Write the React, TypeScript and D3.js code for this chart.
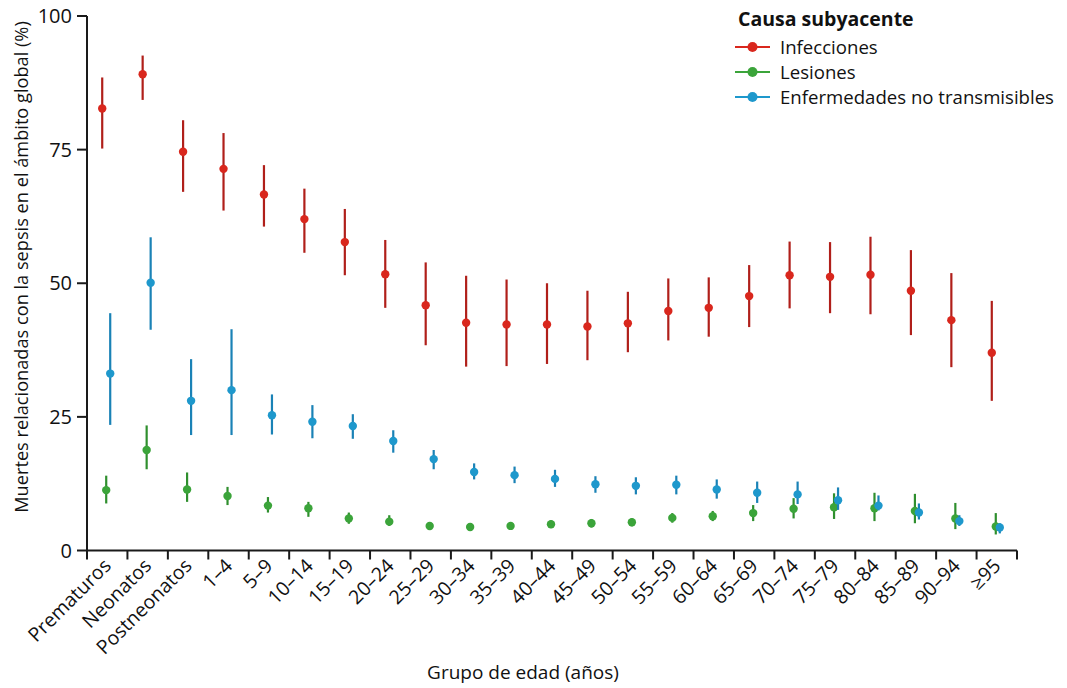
import React from "react";
import * as d3 from "d3";

// Age groups on the x axis
const ageGroups = [
  "Prematuros", "Neonatos", "Postneonatos", "1–4", "5–9", "10–14", "15–19",
  "20–24", "25–29", "30–34", "35–39", "40–44", "45–49", "50–54", "55–59",
  "60–64", "65–69", "70–74", "75–79", "80–84", "85–89", "90–94", "≥95",
];

// Share of sepsis-related deaths (%) by underlying cause: estimate, lower, upper
const infeccionesVal = [82.7, 89.1, 74.6, 71.4, 66.6, 62.0, 57.7, 51.7, 45.9, 42.6, 42.3, 42.3, 41.9, 42.5, 44.8, 45.4, 47.6, 51.5, 51.2, 51.6, 48.6, 43.1, 37.0];
const infeccionesLo = [75.2, 84.3, 67.1, 63.6, 60.6, 55.7, 51.5, 45.4, 38.4, 34.4, 34.5, 34.9, 35.6, 37.1, 39.3, 40.0, 41.8, 45.3, 44.4, 44.2, 40.3, 34.3, 28.0];
const infeccionesHi = [88.5, 92.6, 80.5, 78.1, 72.1, 67.7, 63.9, 58.1, 53.9, 51.4, 50.7, 50.0, 48.6, 48.4, 50.9, 51.1, 53.4, 57.8, 57.7, 58.7, 56.2, 51.9, 46.7];

const lesionesVal = [11.3, 18.8, 11.4, 10.2, 8.4, 7.9, 6.0, 5.4, 4.6, 4.4, 4.6, 4.9, 5.1, 5.3, 6.1, 6.4, 7.0, 7.8, 8.1, 7.9, 7.4, 6.0, 4.5];
const lesionesLo = [8.8, 15.2, 9.1, 8.5, 7.1, 6.3, 5.0, 4.6, 3.8, 3.7, 3.9, 4.2, 4.3, 4.5, 5.2, 5.5, 5.5, 6.0, 5.9, 5.5, 5.1, 4.0, 3.0];
const lesionesHi = [14.0, 23.4, 14.6, 11.9, 10.0, 9.1, 7.1, 6.6, 5.2, 5.1, 5.3, 5.6, 5.9, 6.0, 7.0, 7.4, 8.5, 9.8, 10.7, 10.8, 10.6, 8.9, 7.0];

const entVal = [33.1, 50.1, 28.0, 30.0, 25.3, 24.1, 23.3, 20.5, 17.1, 14.7, 14.1, 13.4, 12.4, 12.1, 12.3, 11.4, 10.8, 10.5, 9.4, 8.4, 7.1, 5.5, 4.3];
const entLo = [23.5, 41.3, 21.6, 21.6, 21.7, 21.0, 20.9, 18.3, 15.2, 13.3, 12.6, 11.9, 10.8, 10.5, 10.5, 9.7, 8.9, 8.7, 7.6, 7.5, 5.8, 4.6, 3.2];
const entHi = [44.4, 58.6, 35.8, 41.4, 29.2, 27.2, 25.5, 22.5, 18.8, 16.3, 15.7, 15.1, 13.9, 13.7, 14.0, 13.3, 12.9, 12.9, 11.8, 10.3, 8.8, 6.6, 5.1];

const yTicks = [0, 25, 50, 75, 100];

const seriesNames = ["Infecciones", "Lesiones", "Enfermedades no transmisibles"];

const series = [
  { name: seriesNames[0], val: infeccionesVal, lo: infeccionesLo, hi: infeccionesHi, dot: "#d9271d", bar: "#b01f1a", shift: -5 },
  { name: seriesNames[1], val: lesionesVal, lo: lesionesLo, hi: lesionesHi, dot: "#3ba43a", bar: "#2f8f2e", shift: -1 },
  { name: seriesNames[2], val: entVal, lo: entLo, hi: entHi, dot: "#1e98cc", bar: "#1a82b6", shift: 3 },
];

const W = 1067;
const H = 688;
const FONT = "'Open Sans', 'Noto Sans', sans-serif";

export default function App() {
  const x = d3.scaleBand<string>().domain(ageGroups).range([87, 1017]).padding(0);
  const y = d3.scaleLinear().domain([0, 100]).range([550.5, 16]);
  const bw = x.bandwidth();
  const boundaries = ageGroups.map((g) => x(g) as number).concat([1017]);
  const axisColor = "#1a1a1a";

  return (
    <svg
      width={W}
      height={H}
      viewBox={`0 0 ${W} ${H}`}
      style={{ position: "absolute", left: 0, top: 0, background: "#fff" }}
      fontFamily={FONT}
    >
      {/* y axis */}
      <line x1={87} x2={87} y1={y(100)} y2={y(0)} stroke={axisColor} strokeWidth={2} />
      {yTicks.map((t) => (
        <g key={t}>
          <line x1={77} x2={87} y1={y(t)} y2={y(t)} stroke={axisColor} strokeWidth={2} />
          <text x={72} y={y(t)} dy="0.35em" textAnchor="end" fontSize={20} fill="#111">
            {t}
          </text>
        </g>
      ))}
      <text
        transform={`translate(28, 267) rotate(-90)`}
        textAnchor="middle"
        fontSize={18.2}
        fill="#111"
      >
        Muertes relacionadas con la sepsis en el ámbito global (%)
      </text>

      {/* x axis */}
      <line x1={86} x2={1017} y1={y(0)} y2={y(0)} stroke={axisColor} strokeWidth={2} />
      {boundaries.map((bx, i) => (
        <line key={i} x1={bx} x2={bx} y1={y(0)} y2={y(0) + 9} stroke={axisColor} strokeWidth={2} />
      ))}
      {ageGroups.map((g) => {
        const cx = (x(g) as number) + bw / 2 + 5;
        return (
          <text
            key={g}
            transform={`translate(${cx}, 567) rotate(-45)`}
            textAnchor="end"
            fontSize={19.5}
            fill="#111"
          >
            {g}
          </text>
        );
      })}
      <text x={523} y={679} textAnchor="middle" fontSize={19} fill="#111">
        Grupo de edad (años)
      </text>

      {/* error bars and point estimates */}
      {series.map((s) => (
        <g key={s.name}>
          {ageGroups.map((g, i) => {
            const cx = (x(g) as number) + bw / 2 + s.shift;
            return (
              <g key={g}>
                <line x1={cx} x2={cx} y1={y(s.lo[i])} y2={y(s.hi[i])} stroke={s.bar} strokeWidth={2.2} />
                <circle cx={cx} cy={y(s.val[i])} r={4.2} fill={s.dot} />
              </g>
            );
          })}
        </g>
      ))}

      {/* legend */}
      <text x={738} y={26} fontSize={19.5} fontWeight="bold" fill="#111">
        Causa subyacente
      </text>
      {series.map((s, i) => {
        const ly = 47 + i * 25;
        return (
          <g key={s.name}>
            <line x1={735} x2={770} y1={ly} y2={ly} stroke={s.dot} strokeWidth={2.2} />
            <circle cx={752.5} cy={ly} r={5} fill={s.dot} />
            <text x={780} y={ly} dy="0.35em" fontSize={18.6} fill="#111">
              {s.name}
            </text>
          </g>
        );
      })}
    </svg>
  );
}
